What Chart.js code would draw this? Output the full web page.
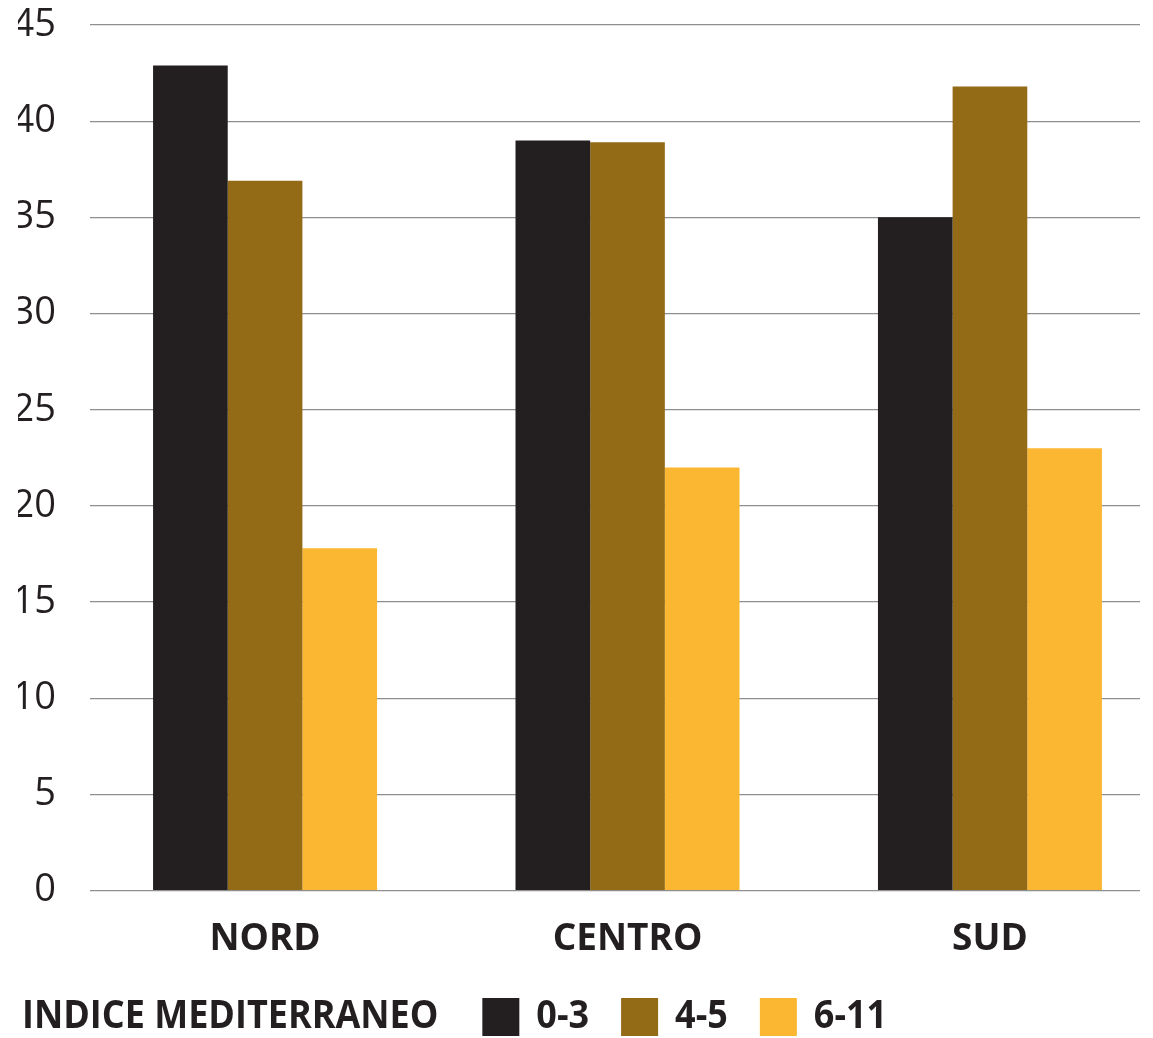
<!DOCTYPE html>
<html>
<head>
<meta charset="utf-8">
<script src="https://cdn.jsdelivr.net/npm/chart.js@4/dist/chart.umd.min.js"></script>
<style>
  html, body { margin: 0; padding: 0; background: #fff; }
  #wrap { width: 1153px; height: 1038px; position: relative; }
</style>
</head>
<body>
<div id="wrap"><canvas id="chart"></canvas></div>
<script>
const categories = ['NORD', 'CENTRO', 'SUD'];
const seriesLabels = ['0-3', '4-5', '6-11'];
const values03 = [42.9, 39.0, 35.0];
const values45 = [36.9, 38.9, 41.8];
const values611 = [17.8, 22.0, 23.0];
const legendTitle = 'INDICE MEDITERRANEO';
const yTicks = [0, 5, 10, 15, 20, 25, 30, 35, 40, 45];

const colors = ['#231f20', '#936a15', '#fbb731'];
const fontFamily = '"Open Sans", sans-serif';

// squeezed text so it looks closer to the condensed face of the original
function narrowText(ctx, text, x, y, sx) {
  ctx.save();
  ctx.translate(x, y);
  ctx.scale(sx, 1);
  ctx.fillText(text, 0, 0);
  ctx.restore();
  return ctx.measureText(text).width * sx;
}

// legend drawn by hand so the title can sit on the same line as the items
const inlineLegend = {
  id: 'inlineLegend',
  afterDraw(chart) {
    const ctx = chart.ctx;
    const y = 1017;
    const sx = 0.9;
    ctx.save();
    ctx.font = 'bold 40px ' + fontFamily;
    ctx.fillStyle = '#231f20';
    ctx.textBaseline = 'middle';
    ctx.textAlign = 'left';
    let x = 22;
    x += narrowText(ctx, legendTitle, x, y, sx) + 44;
    chart.data.datasets.forEach((ds) => {
      ctx.fillStyle = ds.backgroundColor;
      ctx.fillRect(x, y - 19, 37, 38);
      x += 37 + 17;
      ctx.fillStyle = '#231f20';
      x += narrowText(ctx, ds.label, x, y, sx) + 32;
    });
    ctx.restore();
  }
};

// groups sit a bit off-centre in the original, so x is a linear scale
const toPoints = (vals) => vals.map((v, i) => ({ x: i, y: v }));

const ctx = document.getElementById('chart').getContext('2d');
new Chart(ctx, {
  type: 'bar',
  data: {
    datasets: [
      { label: seriesLabels[0], data: toPoints(values03), backgroundColor: colors[0] },
      { label: seriesLabels[1], data: toPoints(values45), backgroundColor: colors[1] },
      { label: seriesLabels[2], data: toPoints(values611), backgroundColor: colors[2] }
    ]
  },
  options: {
    responsive: true,
    maintainAspectRatio: false,
    animation: false,
    layout: { padding: { left: 18, right: 13, top: 25, bottom: 49 } },
    plugins: {
      legend: { display: false },
      tooltip: { enabled: false }
    },
    datasets: {
      bar: { categoryPercentage: 0.618, barPercentage: 1.0 }
    },
    scales: {
      x: {
        type: 'linear',
        offset: false,
        min: -0.483,
        max: 2.414,
        afterBuildTicks(axis) { axis.ticks = categories.map((c, i) => ({ value: i })); },
        grid: { display: false, drawTicks: false, offset: false },
        border: { display: false },
        ticks: {
          color: '#231f20',
          padding: 27,
          autoSkip: false,
          maxRotation: 0,
          callback: (v) => categories[v],
          font: { family: fontFamily, size: 37, weight: 'bold' }
        }
      },
      y: {
        min: 0,
        max: 45,
        afterBuildTicks(axis) { axis.ticks = yTicks.map(v => ({ value: v })); },
        afterFit(axis) {
          axis.width = 72;
          axis.paddingTop = 0;
          axis.paddingBottom = 0;
        },
        grid: { color: '#8f8f8f', lineWidth: 1.2, drawTicks: false },
        border: { display: false },
        ticks: {
          color: '#231f20',
          padding: 34,
          font: { family: fontFamily, size: 38 }
        }
      }
    }
  },
  plugins: [inlineLegend]
});
</script>
</body>
</html>
